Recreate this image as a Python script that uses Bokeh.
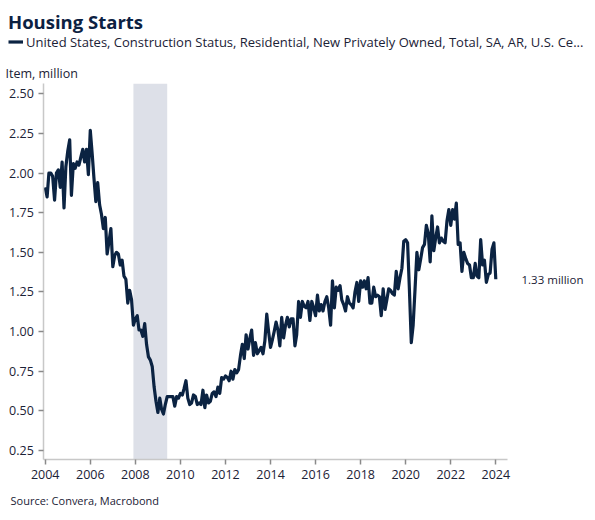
import pandas as pd
from bokeh.plotting import figure
from bokeh.models import (Range1d, FixedTicker, NumeralTickFormatter, DatetimeTickFormatter,
                          BoxAnnotation, Label, Legend, LegendItem, ColumnDataSource)
from bokeh.embed import file_html
from bokeh.resources import INLINE

# ---------------- data (million units, SAAR, monthly from Jan 2004) ----------------
start_month = "2004-01-01"
hs_2004 = [1.91, 1.85, 2.00, 2.00, 1.98, 1.83, 2.00, 2.02, 1.91, 2.07, 1.78, 2.04]
hs_2005 = [2.14, 2.21, 1.86, 2.06, 2.03, 2.07, 2.05, 2.10, 2.15, 2.07, 2.15, 1.99]
hs_2006 = [2.27, 2.12, 1.97, 1.82, 1.94, 1.80, 1.74, 1.65, 1.72, 1.49, 1.57, 1.65]
hs_2007 = [1.41, 1.48, 1.50, 1.49, 1.42, 1.45, 1.35, 1.33, 1.18, 1.26, 1.20, 1.04]
hs_2008 = [1.08, 1.10, 1.01, 1.01, 0.97, 1.05, 0.92, 0.84, 0.82, 0.78, 0.65, 0.56]
hs_2009 = [0.49, 0.58, 0.51, 0.48, 0.54, 0.59, 0.59, 0.59, 0.59, 0.53, 0.59, 0.58]
hs_2010 = [0.61, 0.60, 0.64, 0.69, 0.58, 0.54, 0.55, 0.60, 0.59, 0.54, 0.55, 0.54]
hs_2011 = [0.63, 0.52, 0.60, 0.55, 0.56, 0.61, 0.62, 0.59, 0.65, 0.61, 0.71, 0.70]
hs_2012 = [0.72, 0.71, 0.69, 0.75, 0.70, 0.76, 0.74, 0.76, 0.85, 0.92, 0.83, 0.98]
hs_2013 = [0.89, 0.96, 1.01, 0.85, 0.93, 0.86, 0.88, 0.90, 0.86, 0.94, 1.11, 1.00]
hs_2014 = [0.90, 0.95, 1.00, 1.06, 1.01, 0.91, 1.09, 0.96, 1.04, 1.09, 1.03, 1.08]
hs_2015 = [1.08, 0.91, 0.98, 1.19, 1.09, 1.19, 1.16, 1.15, 1.19, 1.07, 1.19, 1.15]
hs_2016 = [1.10, 1.23, 1.13, 1.17, 1.13, 1.19, 1.22, 1.15, 1.04, 1.32, 1.15, 1.28]
hs_2017 = [1.26, 1.29, 1.20, 1.17, 1.13, 1.22, 1.18, 1.17, 1.15, 1.25, 1.31, 1.19]
hs_2018 = [1.32, 1.28, 1.32, 1.27, 1.34, 1.18, 1.18, 1.28, 1.22, 1.23, 1.22, 1.10]
hs_2019 = [1.27, 1.14, 1.20, 1.27, 1.26, 1.24, 1.23, 1.38, 1.27, 1.34, 1.40, 1.57]
hs_2020 = [1.58, 1.56, 1.27, 0.93, 1.04, 1.27, 1.50, 1.39, 1.46, 1.53, 1.55, 1.67]
hs_2021 = [1.62, 1.44, 1.73, 1.51, 1.59, 1.66, 1.56, 1.59, 1.57, 1.56, 1.70, 1.77]
hs_2022 = [1.67, 1.77, 1.71, 1.81, 1.55, 1.56, 1.38, 1.50, 1.46, 1.43, 1.42, 1.34]
hs_2023 = [1.34, 1.43, 1.35, 1.34, 1.58, 1.42, 1.45, 1.31, 1.36, 1.37, 1.52, 1.56]
hs_2024 = [1.33]

recession_start = "2007-12-01"
recession_end = "2009-06-01"

year_ticks = [str(y) for y in range(2004, 2025, 2)]
y_ticks = [0.25, 0.50, 0.75, 1.00, 1.25, 1.50, 1.75, 2.00, 2.25, 2.50]

title_text = "Housing Starts"
series_name = "United States, Construction Status, Residential, New Privately Owned, Total, SA, AR, U.S. Ce..."
unit_text = "Item, million"
source_text = "Source: Convera, Macrobond"

# ---------------- layout geometry (pixels) ----------------
W, H = 595, 520
PX_2004 = 44.7          # x pixel of 2004-01-01
PX_PER_YEAR = 22.53
PLOT_L, PLOT_R = 43.3, 506.7
PLOT_T, PLOT_B = 83.3, 459.0
VAL_AT_B = 0.193
PX_PER_UNIT = 158.5

def px_to_time(px):
    return pd.Timestamp(start_month) + pd.Timedelta(days=(px - PX_2004) / PX_PER_YEAR * 365.25)

def py_to_val(py):
    return VAL_AT_B + (PLOT_B - py) / PX_PER_UNIT

def ms(ts):
    return ts.value / 1e6

# ---------------- build ----------------
values = (hs_2004 + hs_2005 + hs_2006 + hs_2007 + hs_2008 + hs_2009 + hs_2010 + hs_2011 +
          hs_2012 + hs_2013 + hs_2014 + hs_2015 + hs_2016 + hs_2017 + hs_2018 + hs_2019 +
          hs_2020 + hs_2021 + hs_2022 + hs_2023 + hs_2024)
dates = pd.date_range(start_month, periods=len(values), freq="MS")
src = ColumnDataSource(dict(date=dates, value=values))

NAVY = "#0b2342"
TEXT = "#1b2236"
FONT = "Open Sans"

p = figure(width=W, height=H, x_axis_type="datetime",
           output_backend="svg", toolbar_location=None,
           x_range=Range1d(px_to_time(0), px_to_time(W)),
           y_range=Range1d(py_to_val(H), py_to_val(0)),
           min_border=0, min_border_left=0, min_border_right=0,
           min_border_top=0, min_border_bottom=0)
p.title.visible = False
p.outline_line_color = None
p.xgrid.grid_line_color = None
p.ygrid.grid_line_color = None
p.background_fill_color = "white"
p.border_fill_color = "white"

y_lo, y_hi = py_to_val(PLOT_B), py_to_val(PLOT_T)
t_lo, t_hi = px_to_time(PLOT_L), px_to_time(PLOT_R)

rec = BoxAnnotation(left=pd.Timestamp(recession_start), right=pd.Timestamp(recession_end),
                    bottom=y_lo, top=y_hi,
                    fill_color="#dde0e8", fill_alpha=1.0, line_color=None, level="underlay")
p.add_layout(rec)

line = p.line("date", "value", source=src, line_color=NAVY, line_width=3.2, line_join="round")

tick_ms = [ms(pd.Timestamp(f"{y}-01-01")) for y in year_ticks]
p.xaxis.ticker = FixedTicker(ticks=tick_ms)
p.xaxis.formatter = DatetimeTickFormatter(years="%Y", months="%Y", days="%Y", hours="%Y",
                                          minutes="%Y", seconds="%Y", milliseconds="%Y",
                                          microseconds="%Y", minsec="%Y", hourmin="%Y")
p.yaxis.ticker = FixedTicker(ticks=y_ticks)
p.yaxis.formatter = NumeralTickFormatter(format="0.00")

p.xaxis.fixed_location = y_lo
p.yaxis.fixed_location = ms(t_lo)
p.xaxis.bounds = (ms(t_lo), ms(t_hi))
p.yaxis.bounds = (y_lo, y_hi)

for ax in (p.xaxis, p.yaxis):
    ax.axis_line_color = "#c8c8c8"
    ax.axis_line_width = 1.5
    ax.major_tick_line_color = "#8a8a8a"
    ax.major_tick_line_width = 1.5
    ax.major_tick_in = 0
    ax.minor_tick_out = 0
    ax.minor_tick_in = 0
    ax.major_label_text_font = FONT
    ax.major_label_text_font_size = "12.5px"
    ax.major_label_text_color = TEXT
p.xaxis.major_tick_out = 5
p.xaxis.major_label_standoff = 5
p.yaxis.major_tick_out = 5
p.yaxis.major_label_standoff = 5

legend = Legend(items=[LegendItem(label=series_name, renderers=[line])],
                location=(8, H - 44 - 6.5), orientation="horizontal",
                border_line_alpha=0, background_fill_alpha=0,
                padding=0, margin=0, spacing=0,
                glyph_width=15, glyph_height=13, label_height=13, label_standoff=3,
                label_text_font=FONT, label_text_font_size="13px", label_text_color=TEXT)
p.add_layout(legend)

p.add_layout(Label(x=7.5, y=H - 21, x_units="screen", y_units="screen", text=title_text,
                   text_font=FONT, text_font_style="bold", text_font_size="18.5px",
                   text_color="#0c2142", text_baseline="middle", text_align="left"))
p.add_layout(Label(x=5, y=H - 73, x_units="screen", y_units="screen", text=unit_text,
                   text_font=FONT, text_font_size="12.5px", text_color=TEXT,
                   text_baseline="middle", text_align="left"))
p.add_layout(Label(x=10, y=H - 500, x_units="screen", y_units="screen", text=source_text,
                   text_font=FONT, text_font_size="11px", text_color=TEXT,
                   text_baseline="middle", text_align="left"))
p.add_layout(Label(x=521, y=values[-1], x_units="screen", y_units="data",
                   text=f"{values[-1]:.2f} million",
                   text_font=FONT, text_font_size="11.5px", text_color=TEXT,
                   text_baseline="middle", text_align="left"))

open("out.html", "w").write(file_html(p, INLINE))
